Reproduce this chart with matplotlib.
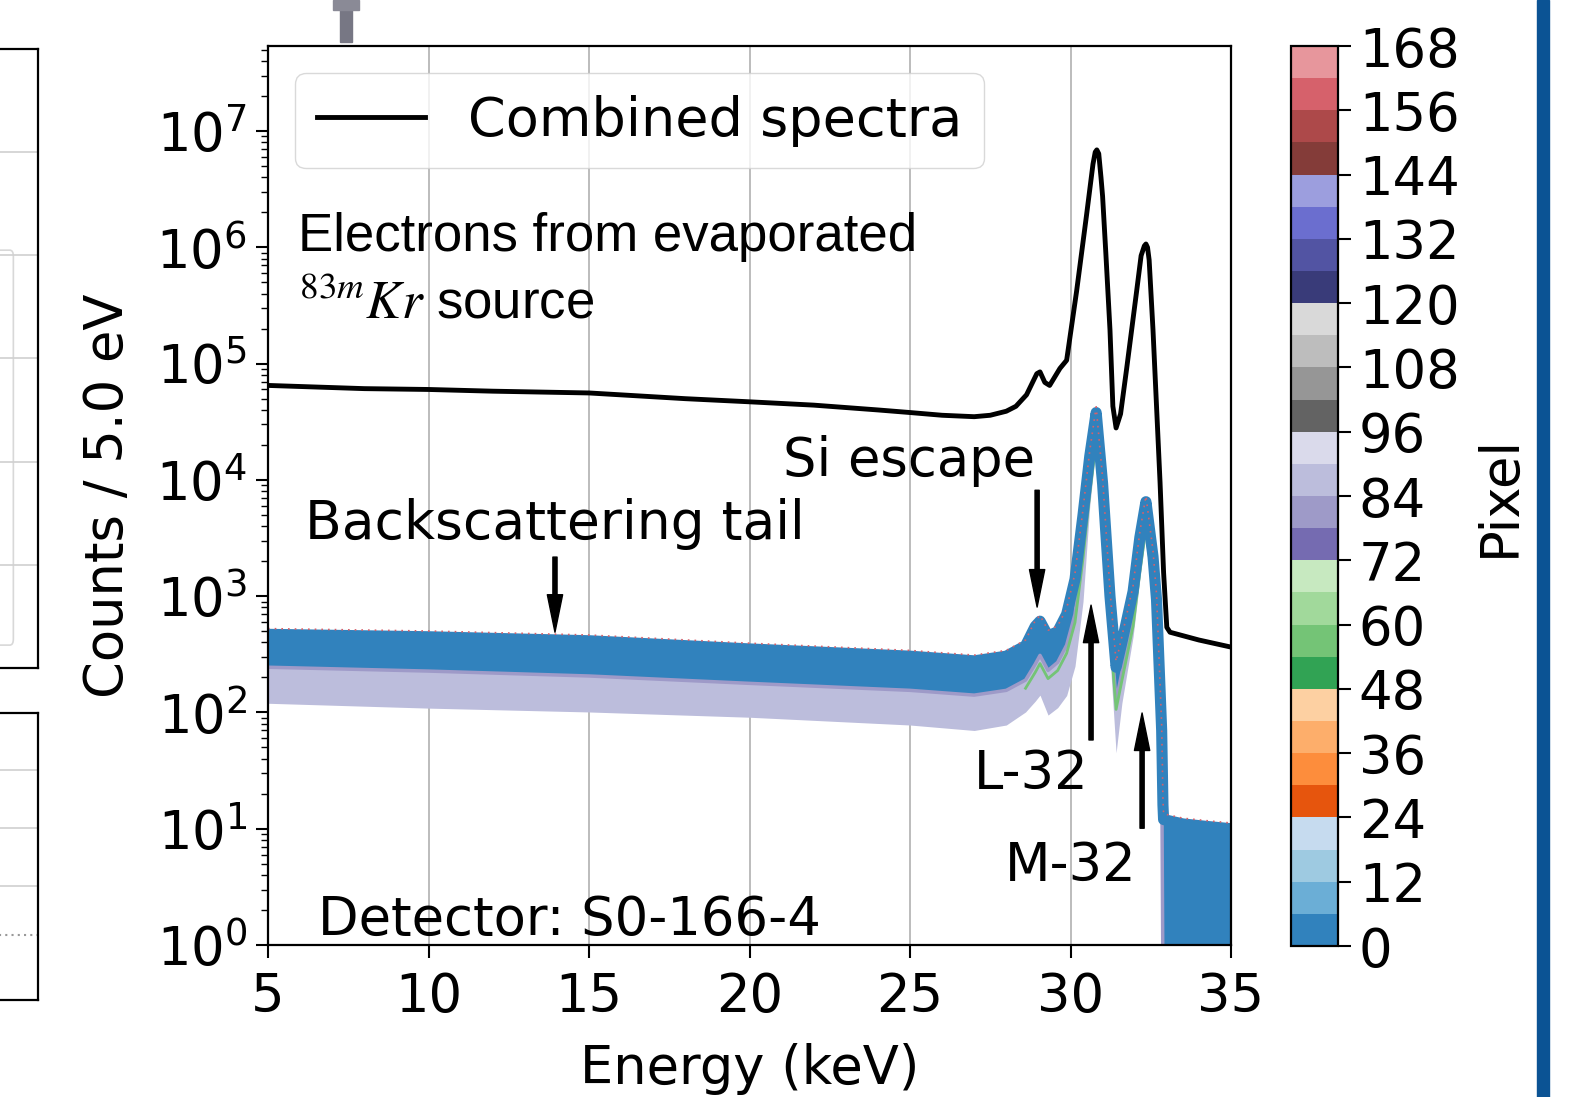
import matplotlib
matplotlib.use("Agg")
import matplotlib.pyplot as plt
import numpy as np
from matplotlib.colors import ListedColormap, Normalize
from matplotlib.cm import ScalarMappable
from matplotlib.patches import Rectangle, FancyBboxPatch

# combined spectrum (black line)
energy_comb = [5, 8, 10, 12, 15, 18, 20, 22, 24, 25, 26, 27, 27.5, 28.0, 28.3,
               28.63, 28.95, 29.05, 29.2, 29.35, 29.67, 29.88, 30.19, 30.5, 30.7,
               30.77, 30.82, 30.88, 30.95, 31.0, 31.1, 31.23, 31.32, 31.42, 31.56,
               31.75, 32.06, 32.2, 32.3, 32.35, 32.4, 32.45, 32.57, 32.79, 32.9,
               33.0, 33.1, 34.0, 35.0]
counts_comb = [6.5e4, 6.1e4, 6.0e4, 5.8e4, 5.6e4, 5.0e4, 4.7e4, 4.4e4, 4.0e4, 3.8e4,
               3.6e4, 3.5e4, 3.6e4, 3.9e4, 4.3e4, 5.4e4, 8.2e4, 8.5e4, 6.9e4, 6.5e4,
               9.1e4, 1.07e5, 4.2e5, 1.9e6, 5.2e6, 6.6e6, 6.9e6, 6.4e6, 4.0e6, 2.75e6,
               9.0e5, 1.95e5, 4.3e4, 2.8e4, 3.7e4, 9.1e4, 4.2e5, 8.5e5, 1.03e6, 1.07e6,
               1.0e6, 7.8e5, 1.95e5, 9.5e3, 1.6e3, 540, 490, 420, 365]

# per-pixel spectra, shown as bands (upper / lower envelope)
energy_band = [5, 10, 15, 20, 25, 27, 28, 28.6, 28.9, 29.05, 29.3, 29.6, 29.88,
               30.14, 30.39, 30.6, 30.8, 31.0, 31.23, 31.42, 31.6, 31.95, 32.16,
               32.35, 32.57, 32.68, 32.84, 32.88, 32.9, 33.5, 34.2, 35]
blue_upper = [470, 448, 414, 352, 305, 278, 305, 375, 550, 610, 455, 495, 700,
              1400, 5000, 1.6e4, 3.8e4, 9300, 1000, 245, 400, 1100, 3200,
              6500, 2200, 930, 70, 16, 12, 11, 10.5, 10]
blue_lower = [245, 227, 206, 178, 155, 141, 155, 190, 260, 310, 230, 270, 380,
              700, 2500, 9000, 2.5e4, 5000, 600, 125, 220, 650, 1900,
              4500, 1400, 500, 40, 0.5, 0.5, 0.5, 0.5, 0.5]
lav_lower = [120, 109, 101, 91, 78, 70, 78, 101, 125, 141, 95, 110, 140,
             250, 900, 6000, 2.0e4, 3500, 300, 45, 120, 450, 1400,
             3500, 1000, 300, 20, 0.5, 0.5, 0.5, 0.5, 0.5]

pixel_ticks = list(range(0, 169, 12))

cmap_colors = list(plt.get_cmap("tab20c").colors) \
    + list(plt.get_cmap("tab20b").colors[0:4]) \
    + list(plt.get_cmap("tab20b").colors[12:16])
pixel_cmap = ListedColormap(cmap_colors)

plt.rcParams["font.family"] = "DejaVu Sans"
plt.rcParams["font.size"] = 38

fig = plt.figure(figsize=(15.7, 10.97), dpi=100)
W, H = 1570, 1097

# main axes
ax = fig.add_axes([268 / W, 152 / H, 963 / W, 899 / H])
ax.set_yscale("log")
ax.set_xlim(5, 35)
ax.set_ylim(1, 5.4e7)

ax.fill_between(energy_band, lav_lower, blue_upper, color="#bcbddc", lw=0)
ax.plot(energy_band, blue_lower, color="#9e9ac8", lw=2.5)
e = np.array(energy_band)
m = (e >= 28.5) & (e <= 32.85)
ax.plot(e[m], np.array(blue_lower)[m] * 0.85, color="#74c476", lw=2)
ax.fill_between(energy_band, blue_lower, blue_upper, color="#3182bd", lw=0)
ax.plot(energy_band, blue_upper, color="#3182bd", lw=8, solid_joinstyle="round")
ax.plot(energy_band, np.array(blue_upper) * 1.12, color="#d6616b", lw=1.2, ls=(0, (1, 3)))

ax.plot(energy_comb, counts_comb, color="black", lw=3.5, label="Combined spectra",
        solid_joinstyle="round")

ax.grid(axis="x", color="#b0b0b0", lw=1.2)
ax.set_axisbelow(True)
ax.set_xticks([5, 10, 15, 20, 25, 30, 35])
ax.set_yticks([10.0 ** k for k in range(8)])
ax.tick_params(axis="both", which="major", length=9, width=1.5, labelsize=38)
ax.tick_params(axis="x", pad=10)
ax.tick_params(axis="y", pad=6)
ax.tick_params(axis="y", which="minor", length=5, width=1)
for s in ax.spines.values():
    s.set_linewidth(1.6)

ax.set_xlabel("Energy (keV)", fontsize=38, labelpad=14)
ax.set_ylabel("Counts / 5.0 eV", fontsize=38, labelpad=16)

leg = ax.legend(loc="upper left", fontsize=39, handlelength=2.0, borderpad=0.4,
                fancybox=True, framealpha=0.8)
leg.get_frame().set_edgecolor("#d0d0d0")

ax.text(5.93, 9.3e5, "Electrons from evaporated", fontsize=38,
        family="Liberation Sans", va="baseline", ha="left")
ax.text(5.98, 2.46e5, "$^{83m}Kr$ source", fontsize=38, family="Liberation Sans",
        math_fontfamily="stix", va="baseline", ha="left")

ax.text(6.15, 3100, "Backscattering tail", fontsize=38.5, va="baseline", ha="left")
ax.text(28.89, 1.08e4, "Si escape", fontsize=38, va="baseline", ha="right")
ax.text(30.55, 21.9, "L-32", fontsize=38, va="baseline", ha="right")
ax.text(32.07, 3.55, "M-32", fontsize=38, va="baseline", ha="right")
ax.text(6.56, 1.22, "Detector: S0-166-4", fontsize=38, va="baseline", ha="left")

arrow = dict(facecolor="black", edgecolor="black", width=3.0, headwidth=11,
             headlength=27, shrink=0)
ax.annotate("", xy=(13.94, 490), xytext=(13.94, 2170), arrowprops=arrow)
ax.annotate("", xy=(28.96, 806), xytext=(28.96, 8150), arrowprops=arrow)
ax.annotate("", xy=(30.64, 838), xytext=(30.64, 58), arrowprops=arrow)
ax.annotate("", xy=(32.23, 99), xytext=(32.23, 10.1), arrowprops=arrow)

# colorbar for pixel index
cax = fig.add_axes([1291 / W, 151 / H, 47 / W, 900 / H])
sm = ScalarMappable(norm=Normalize(0, 168), cmap=pixel_cmap)
cb = fig.colorbar(sm, cax=cax, ticks=pixel_ticks)
cb.outline.set_linewidth(1.6)
cax.tick_params(length=9, width=1.5, labelsize=38, pad=6)
cb.set_label("Pixel", fontsize=38, labelpad=10)

# fragments of the neighbouring panels on the slide
la = fig.add_axes([-0.2, (H - 668) / H, 0.2 + 38 / W, 619 / H])
la.set_ylim(0, 1)
la.set_yticks([0.166, 0.333, 0.501, 0.667, 0.834])
la.set_xticks([])
la.tick_params(left=False, labelleft=False)
la.grid(axis="y", color="#d0d0d0", lw=1.2)
for s in la.spines.values():
    s.set_linewidth(1.6)
la.add_patch(FancyBboxPatch((0.5, 0.037), 0.43, 0.638,
                            boxstyle="round,pad=0.0,rounding_size=0.01",
                            transform=la.transAxes, fc="white", ec="#d8d8d8", lw=1.2))

lb = fig.add_axes([-0.2, (H - 1000) / H, 0.2 + 38 / W, 287 / H])
lb.set_ylim(0, 1)
lb.set_yticks([0.397, 0.599, 0.801])
lb.set_xticks([])
lb.tick_params(left=False, labelleft=False)
lb.grid(axis="y", color="#d0d0d0", lw=1.2)
lb.axhline(0.226, color="#999999", lw=1.5, ls=(0, (1, 2)))
for s in lb.spines.values():
    s.set_linewidth(1.6)

fig.patches.append(Rectangle((1537 / W, 0), 12 / W, 1, transform=fig.transFigure,
                             color="#0b5394", zorder=5))
fig.patches.append(Rectangle((340 / W, (H - 42) / H), 12 / W, 42 / H,
                             transform=fig.transFigure, color="#777784", zorder=5))
fig.patches.append(Rectangle((333 / W, (H - 10) / H), 26 / W, 10 / H,
                             transform=fig.transFigure, color="#8a8a96", zorder=5))

fig.savefig("out.png", dpi=100)
